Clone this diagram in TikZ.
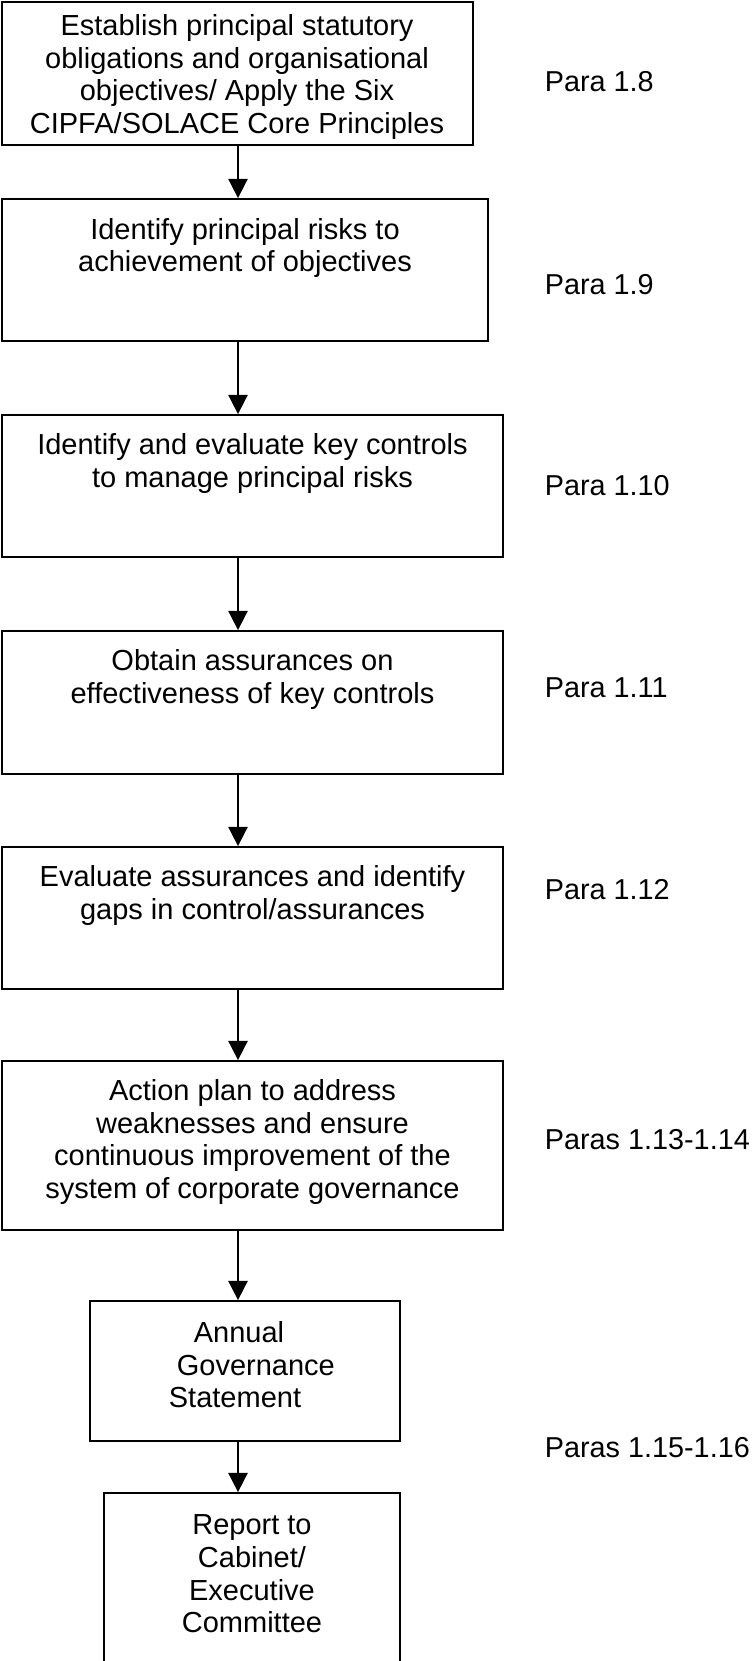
\documentclass[tikz,border=0pt]{standalone}
\usepackage{fontspec}
\setmainfont{Liberation Sans}
\usetikzlibrary{arrows.meta}

\begin{document}
\begin{tikzpicture}[
    x=0.5pt, y=-0.5pt,
    >={Triangle[length=9.6pt,width=9.6pt]},
    line width=0.9pt,
    stage/.style={rectangle,draw,inner sep=0pt},
    stagetext/.style={align=center,inner sep=0pt,font=\fontsize{14.5}{16.3}\selectfont},
    para/.style={anchor=west,inner sep=0pt,font=\fontsize{14.4}{16.3}\selectfont}
  ]
  \useasboundingbox (0,0) rectangle (753,1661);
  \coordinate (ax) at (238,0);

  % boxes
  \node[stage, minimum width=235.5pt, minimum height=71.5pt] (s1) at (237.5,73.5) {};
  \node[stage, minimum width=243pt,   minimum height=71pt]   (s2) at (245,270) {};
  \node[stage, minimum width=250.5pt, minimum height=71pt]   (s3) at (252.5,486) {};
  \node[stage, minimum width=250.5pt, minimum height=71.5pt] (s4) at (252.5,702.5) {};
  \node[stage, minimum width=250.5pt, minimum height=71pt]   (s5) at (252.5,918) {};
  \node[stage, minimum width=250.5pt, minimum height=84.5pt] (s6) at (252.5,1145.5) {};
  \node[stage, minimum width=155pt,   minimum height=70pt]   (s7) at (245,1371) {};
  \node[stage, minimum width=148pt,   minimum height=93.5pt] (s8) at (252,1586.5) {};

  % box texts
  \node[stagetext] (t1) at (237,77) {Establish principal statutory\\obligations and organisational\\objectives/ Apply the Six\\CIPFA/SOLACE Core Principles};
  \node[stagetext] (t2) at (245,248) {Identify principal risks to\\achievement of objectives};
  \node[stagetext] (t3) at (252.5,463.5) {Identify and evaluate key controls\\to manage principal risks};
  \node[stagetext] (t4) at (252.5,679.5) {Obtain assurances on\\effectiveness of key controls};
  \node[stagetext] (t5) at (252.5,895.5) {Evaluate assurances and identify\\gaps in control/assurances};
  \node[stagetext] (t6) at (252.5,1142) {Action plan to address\\weaknesses and ensure\\continuous improvement of the\\system of corporate governance};
  \node[stagetext, align=left, anchor=west] (t7) at (168,1365) {\hspace*{12.5pt}Annual\\\hspace*{4pt}Governance\\Statement};
  \node[stagetext] (t8) at (252,1574) {Report to\\Cabinet/\\Executive\\Committee};

  % paragraph references
  \node[para] (p1) at (544,82)   {Para 1.8};
  \node[para] (p2) at (544,285)  {Para 1.9};
  \node[para] (p3) at (544,486)  {Para 1.10};
  \node[para] (p4) at (544,688)  {Para 1.11};
  \node[para] (p5) at (544,890)  {Para 1.12};
  \node[para] (p6) at (544,1140) {Paras 1.13-1.14};
  \node[para] (p7) at (544,1448) {Paras 1.15-1.16};

  \draw[->] (s1.south -| ax) -- (s2.north -| ax);
  \draw[->] (s2.south -| ax) -- (s3.north -| ax);
  \draw[->] (s3.south -| ax) -- (s4.north -| ax);
  \draw[->] (s4.south -| ax) -- (s5.north -| ax);
  \draw[->] (s5.south -| ax) -- (s6.north -| ax);
  \draw[->] (s6.south -| ax) -- (s7.north -| ax);
  \draw[->] (s7.south -| ax) -- (s8.north -| ax);
\end{tikzpicture}
\end{document}
